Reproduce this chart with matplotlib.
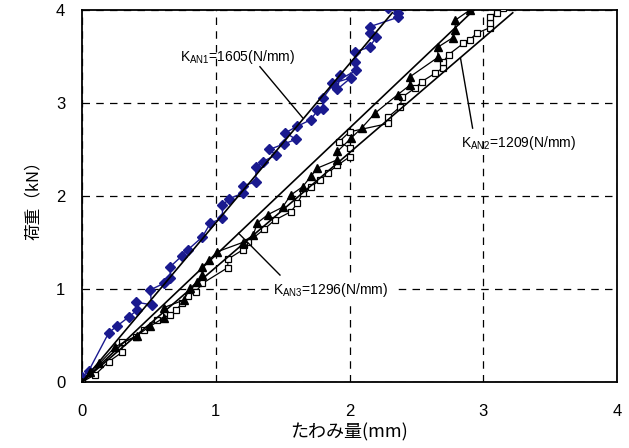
import matplotlib
matplotlib.use("Agg")
import matplotlib.pyplot as plt

plt.rcParams['font.family'] = ['Liberation Sans', 'Noto Sans CJK JP', 'DejaVu Sans']

# Series 1 (blue diamonds, K_AN1)
x1 = [0.00, 0.05, 0.20, 0.26, 0.35, 0.41, 0.40, 0.52, 0.51, 0.61, 0.66, 0.66, 0.75, 0.79, 0.90, 0.96,
      1.05, 1.05, 1.10, 1.20, 1.20, 1.30, 1.30, 1.35, 1.45, 1.40, 1.51, 1.60, 1.52, 1.61, 1.71, 1.76,
      1.80, 1.80, 1.93, 1.91, 2.01, 1.87, 2.05, 2.04, 2.04, 2.15, 2.20, 2.15, 2.15, 2.36, 2.36, 2.29]
y1 = [0.05, 0.12, 0.53, 0.60, 0.70, 0.77, 0.86, 0.83, 0.99, 1.06, 1.12, 1.24, 1.36, 1.42, 1.56, 1.71,
      1.76, 1.90, 1.97, 2.03, 2.11, 2.15, 2.31, 2.37, 2.44, 2.50, 2.56, 2.61, 2.68, 2.75, 2.82, 2.92,
      2.94, 3.05, 3.30, 3.15, 3.27, 3.21, 3.35, 3.44, 3.55, 3.60, 3.71, 3.75, 3.82, 3.92, 3.97, 4.02]

# Series 2 (open squares, K_AN2)
x2 = [0.00, 0.10, 0.20, 0.30, 0.30, 0.40, 0.46, 0.56, 0.66, 0.70, 0.75, 0.79, 0.85, 0.90, 1.09, 1.09,
      1.20, 1.24, 1.21, 1.36, 1.44, 1.56, 1.61, 1.65, 1.71, 1.78, 1.84, 1.91, 2.00, 2.00, 1.92, 2.00,
      2.29, 2.29, 2.38, 2.39, 2.49, 2.54, 2.64, 2.70, 2.70, 2.74, 2.85, 2.90, 2.95, 3.05, 3.05, 3.05,
      3.10, 3.15]
y2 = [0.00, 0.08, 0.22, 0.32, 0.43, 0.48, 0.56, 0.67, 0.72, 0.77, 0.85, 0.92, 0.97, 1.06, 1.23, 1.32,
      1.42, 1.51, 1.47, 1.64, 1.74, 1.83, 1.92, 2.03, 2.10, 2.17, 2.25, 2.33, 2.42, 2.52, 2.58, 2.69,
      2.78, 2.85, 2.96, 3.06, 3.16, 3.23, 3.32, 3.38, 3.44, 3.52, 3.64, 3.68, 3.75, 3.81, 3.86, 3.93,
      3.97, 4.02]

# Series 3 (filled triangles, K_AN3)
x3 = [0.00, 0.06, 0.13, 0.25, 0.41, 0.51, 0.61, 0.61, 0.76, 0.81, 0.86, 0.90, 0.90, 0.95, 1.01, 1.20,
      1.28, 1.31, 1.39, 1.50, 1.56, 1.65, 1.71, 1.76, 1.91, 1.91, 2.01, 2.09, 2.19, 2.36, 2.45, 2.45,
      2.66, 2.66, 2.77, 2.79, 2.79, 2.90]
y3 = [0.00, 0.11, 0.20, 0.38, 0.50, 0.60, 0.69, 0.80, 0.88, 1.01, 1.08, 1.15, 1.24, 1.31, 1.40, 1.50,
      1.58, 1.71, 1.80, 1.88, 2.01, 2.10, 2.21, 2.30, 2.39, 2.48, 2.62, 2.73, 2.89, 3.09, 3.19, 3.28,
      3.49, 3.60, 3.70, 3.78, 3.89, 4.00]

# Stiffness lines (start / end, in data units)
fit1_x = [0.0, 2.32]
fit1_y = [0.0, 3.97]
fit2_x = [0.0, 3.22]
fit2_y = [0.0, 3.97]
fit3_x = [0.0, 2.93]
fit3_y = [0.0, 4.00]

labels = [r"K$_{\mathregular{AN1}}$=1605(N/mm)",
          r"K$_{\mathregular{AN2}}$=1209(N/mm)",
          r"K$_{\mathregular{AN3}}$=1296(N/mm)"]

ticks = [0, 1, 2, 3, 4]

fig = plt.figure(figsize=(6.29, 4.48), dpi=100)
ax = fig.add_axes([0.1304, 0.1473, 0.8506, 0.8304])

ax.plot(x1, y1, color='#1a1a8f', lw=1.0, marker='D', ms=5.5, mfc='#1a1a8f', mec='#1a1a8f', zorder=3)
ax.plot(x2, y2, color='black', lw=0.9, marker='s', ms=5, mfc='white', mec='black', mew=0.9, zorder=3)
ax.plot(x3, y3, color='black', lw=0.9, marker='^', ms=6, mfc='black', mec='black', zorder=3)

for fx, fy in [(fit1_x, fit1_y), (fit2_x, fit2_y), (fit3_x, fit3_y)]:
    ax.plot(fx, fy, color='black', lw=1.2, zorder=4)

ax.set_xlim(0, 4)
ax.set_ylim(0, 4)
ax.set_xticks(ticks)
ax.set_yticks(ticks)
ax.grid(True, color='black', linestyle=(0, (6, 5)), linewidth=0.9)
ax.tick_params(length=0, labelsize=12)
ax.tick_params(axis='x', pad=16)
ax.tick_params(axis='y', pad=12)
for s in ax.spines.values():
    s.set_linewidth(1.3)

ax.set_xlabel('たわみ量(mm)', fontsize=13, family=['Noto Sans CJK JP', 'DejaVu Sans'], labelpad=3)
ax.set_ylabel('荷重（kN）', fontsize=12, family=['Noto Sans CJK JP', 'DejaVu Sans'], labelpad=10)

# annotation texts
ax.text(0.73, 3.49, labels[0], fontsize=10, ha='left', va='center', zorder=5)
ax.text(2.83, 2.57, labels[1], fontsize=10, ha='left', va='center', zorder=5)
ax.text(1.43, 0.99, labels[2], fontsize=10, ha='left', va='center', zorder=5,
        bbox=dict(boxstyle='square,pad=0.3', fc='white', ec='none'))

# leader lines
lead1_x = [1.33, 1.65]
lead1_y = [3.39, 2.84]
lead2_x = [2.92, 2.83]
lead2_y = [2.73, 3.48]
lead3_x = [1.48, 1.17]
lead3_y = [1.15, 1.60]
for lx, ly in [(lead1_x, lead1_y), (lead2_x, lead2_y), (lead3_x, lead3_y)]:
    ax.plot(lx, ly, color='black', lw=1.0, zorder=5)

fig.savefig('out.png', dpi=100)
